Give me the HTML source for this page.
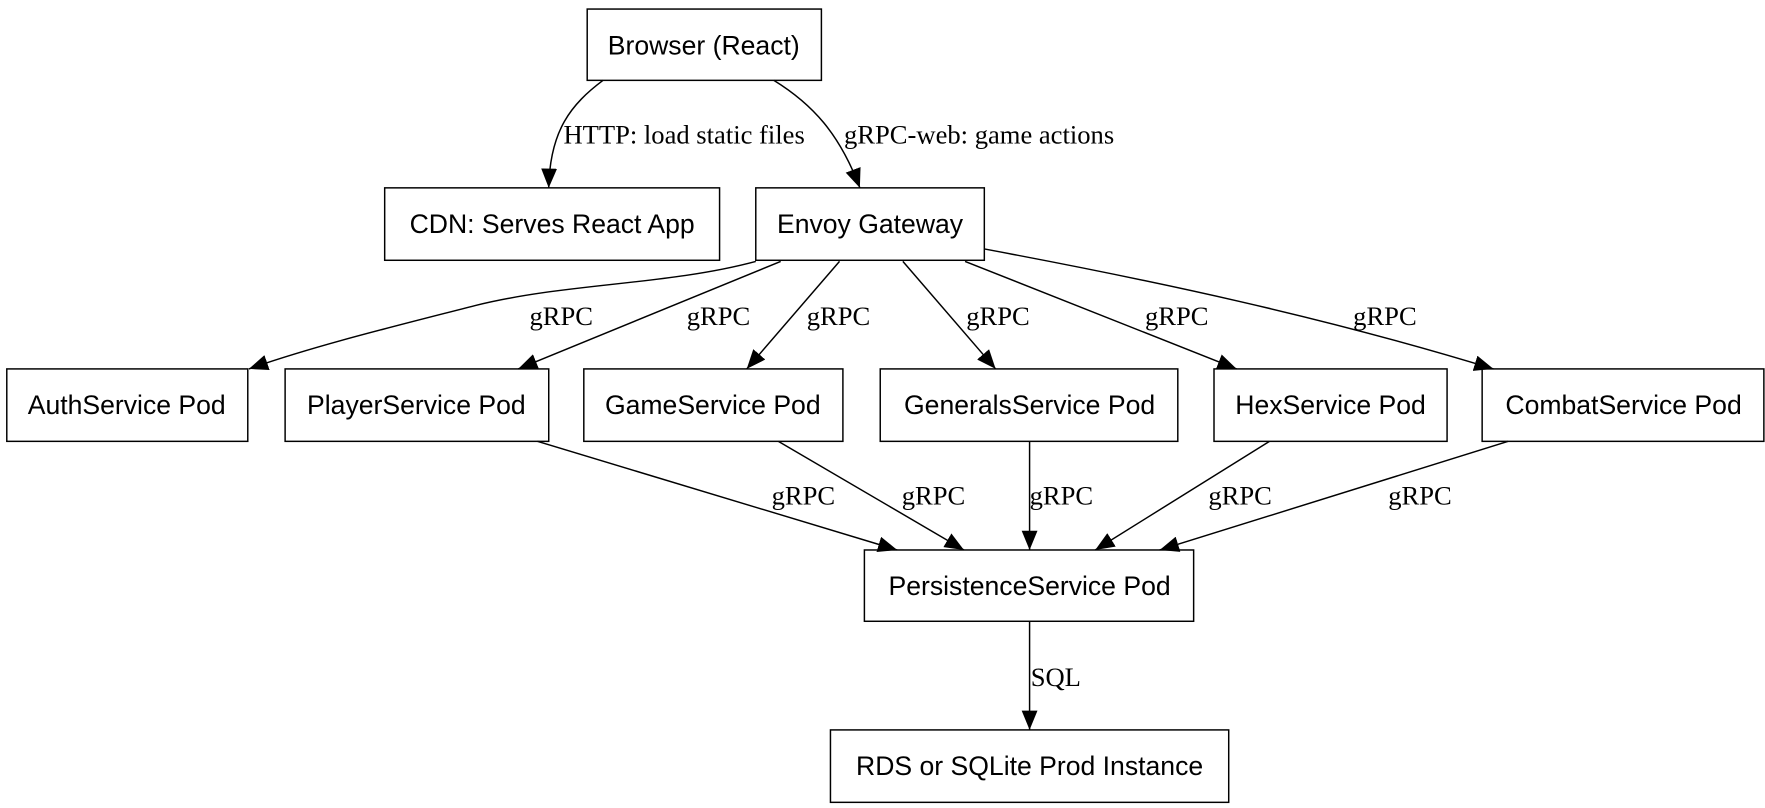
<!DOCTYPE html>
<html><head><meta charset="utf-8"><style>
html,body{margin:0;padding:0;background:#fff;}
svg{display:block}
.n{font-family:"Liberation Sans",Arial,sans-serif;font-size:23.5px;text-anchor:middle}
.l{font-family:"Liberation Serif","Times New Roman",serif;font-size:23.5px}
rect{fill:#fff;stroke:#000;stroke-width:1.3}
path.e{fill:none;stroke:#000;stroke-width:1.3}
</style></head><body>
<svg width="1765" height="808" viewBox="0 0 1560 714" preserveAspectRatio="none" xmlns="http://www.w3.org/2000/svg">
<defs><marker id="a" markerUnits="userSpaceOnUse" markerWidth="18" markerHeight="14" refX="17" refY="7" orient="auto"><path d="M0,0 L17,7 L0,14 z" fill="#000"/></marker></defs>
<rect x="519" y="8" width="207" height="63"/><text class="n" x="622" y="48">Browser (React)</text>
<rect x="340" y="166" width="296" height="64"/><text class="n" x="488" y="206">CDN: Serves React App</text>
<rect x="668" y="166" width="202" height="64"/><text class="n" x="769" y="206">Envoy Gateway</text>
<rect x="6" y="326" width="213" height="64"/><text class="n" x="112" y="366">AuthService Pod</text>
<rect x="252" y="326" width="233" height="64"/><text class="n" x="368" y="366">PlayerService Pod</text>
<rect x="516" y="326" width="229" height="64"/><text class="n" x="630" y="366">GameService Pod</text>
<rect x="778" y="326" width="263" height="64"/><text class="n" x="910" y="366">GeneralsService Pod</text>
<rect x="1073" y="326" width="206" height="64"/><text class="n" x="1176" y="366">HexService Pod</text>
<rect x="1310" y="326" width="249" height="64"/><text class="n" x="1435" y="366">CombatService Pod</text>
<rect x="764" y="486" width="291" height="63"/><text class="n" x="910" y="526">PersistenceService Pod</text>
<rect x="734" y="645" width="352" height="64"/><text class="n" x="910" y="685">RDS or SQLite Prod Instance</text>

<path class="e" marker-end="url(#a)" d="M533,71 C505,92 486,115 485,166"/>
<text class="l" x="498" y="127">HTTP: load static files</text>
<path class="e" marker-end="url(#a)" d="M684,71 C718,92 742,118 760,166"/>
<text class="l" x="746" y="127">gRPC-web: game actions</text>

<path class="e" marker-end="url(#a)" d="M668,231 C590,252 500,250 420,270 C350,288 280,305 220,326"/>
<text class="l" x="468" y="287">gRPC</text>
<path class="e" marker-end="url(#a)" d="M690,231 L458,326"/>
<text class="l" x="607" y="287">gRPC</text>
<path class="e" marker-end="url(#a)" d="M742,231 L660,326"/>
<text class="l" x="713" y="287">gRPC</text>
<path class="e" marker-end="url(#a)" d="M798,231 L880,326"/>
<text class="l" x="854" y="287">gRPC</text>
<path class="e" marker-end="url(#a)" d="M853,231 L1093,326"/>
<text class="l" x="1012" y="287">gRPC</text>
<path class="e" marker-end="url(#a)" d="M870,220 C1020,248 1170,280 1320,326"/>
<text class="l" x="1196" y="287">gRPC</text>

<path class="e" marker-end="url(#a)" d="M475,390 L793,486"/>
<text class="l" x="682" y="446">gRPC</text>
<path class="e" marker-end="url(#a)" d="M688,390 L852,486"/>
<text class="l" x="797" y="446">gRPC</text>
<path class="e" marker-end="url(#a)" d="M910,390 L910,486"/>
<text class="l" x="910" y="446">gRPC</text>
<path class="e" marker-end="url(#a)" d="M1122,390 L968,486"/>
<text class="l" x="1068" y="446">gRPC</text>
<path class="e" marker-end="url(#a)" d="M1333,390 L1025,486"/>
<text class="l" x="1227" y="446">gRPC</text>

<path class="e" marker-end="url(#a)" d="M910,549 L910,645"/>
<text class="l" x="911" y="606">SQL</text>
</svg>
</body></html>
